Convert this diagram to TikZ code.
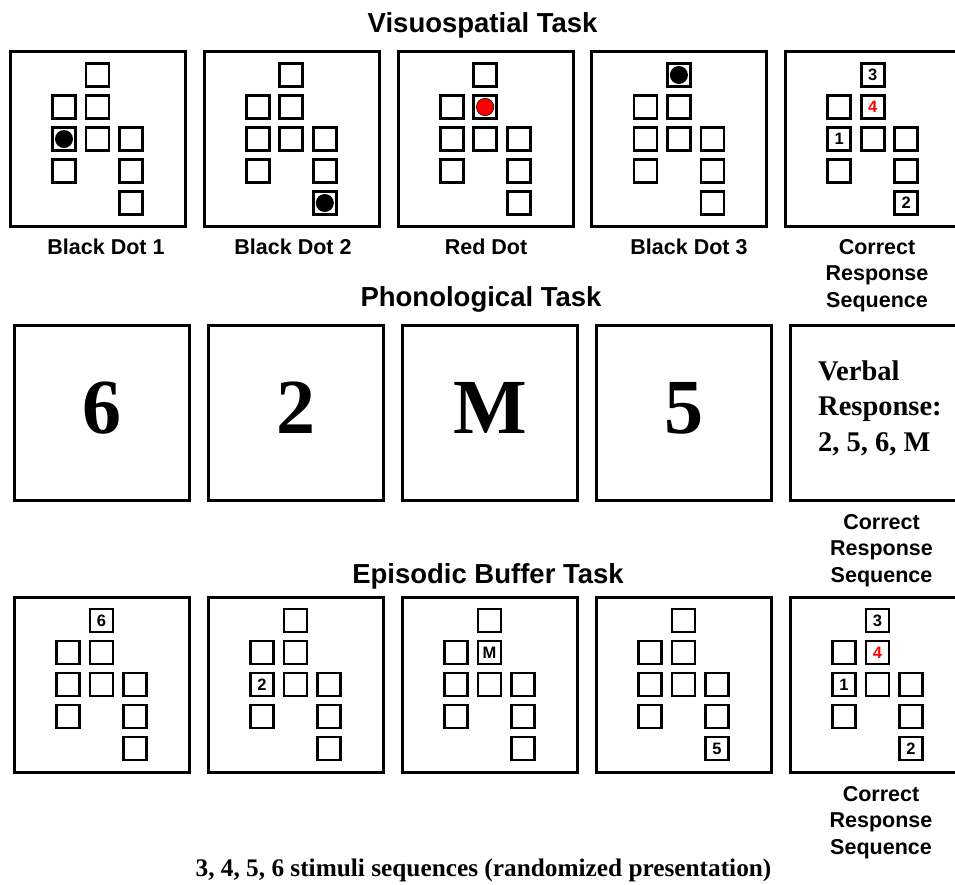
\documentclass[tikz,border=0pt]{standalone}
\usepackage{fontspec}
\setmainfont{Liberation Sans}
\newfontfamily\timesrm{Liberation Serif}

\begin{document}
\begin{tikzpicture}[x=1pt,y=-1pt,
  panel/.style={draw,line width=3pt,minimum size=175pt,inner sep=0pt},
  cell/.style={draw,line width=2.8pt,minimum size=23pt,inner sep=0pt},
  cellnum/.style={font=\fontsize{16.5}{16.5}\selectfont\bfseries,inner sep=0pt},
  tasktitle/.style={font=\fontsize{27.5}{30}\selectfont\bfseries,anchor=base},
  caption/.style={font=\fontsize{21.5}{26.7}\selectfont\bfseries,align=center,anchor=base,inner sep=0pt},
  bigchar/.style={font=\timesrm\fontsize{78}{78}\selectfont\bfseries,anchor=base,inner sep=0pt},
]

% page area, the last panels run off the right edge
\useasboundingbox (0,0) rectangle (955,884);
\clip (0,0) rectangle (955,884);
\fill[white] (0,0) rectangle (955,884);

%Row heights of the three tasks
\def\vsy{139}      %Visuospatial row.
\def\phy{412.5}    %Phonological row.
\def\eby{684.5}    %Episodic buffer row.

% Panels and the grids of cells
\foreach \i in {1,...,5} {
  \node[panel] (vs\i) at ({98+(\i-1)*193.8},\vsy) {};
  \node[panel] (ph\i) at ({102+(\i-1)*194},\phy) {};
  \node[panel] (eb\i) at ({102+(\i-1)*194},\eby) {};
  \foreach \c/\r in {2/1,1/2,2/2,1/3,2/3,3/3,1/4,3/4,3/5} {
    \node[cell] (vs\i-\c\r) at ([shift={({(\c-2)*33.5-0.5},{(\r-3)*32})}]vs\i) {};
    \node[cell] (eb\i-\c\r) at ([shift={({(\c-2)*33.5-0.5},{(\r-3)*32})}]eb\i) {};
  }
}

% Titles
\node[tasktitle] (vstitle) at (482.6,32.5) {Visuospatial Task};
\node[tasktitle] (phtitle) at (481,306) {Phonological Task};
\node[tasktitle] (ebtitle) at (488,583) {Episodic Buffer Task};

% VISUOSPATIAL: dots
\fill (vs1-13) circle (9pt);
\fill (vs2-35) circle (9pt);
\filldraw[fill=red,draw=black,line width=0.6pt] (vs3-22) circle (8.7pt);
\fill (vs4-21) circle (9pt);

\node[cellnum] (vs5-n1) at (vs5-13) {1};
\node[cellnum] (vs5-n2) at (vs5-35) {2};
\node[cellnum] (vs5-n3) at (vs5-21) {3};
\node[cellnum,text=red] (vs5-n4) at (vs5-22) {4};

% (base of a three line caption sits on its last line)
\node[caption] (vslab1) at (106,254) {Black Dot 1};
\node[caption] (vslab2) at (293,254) {Black Dot 2};
\node[caption] (vslab3) at (486,254) {Red Dot};
\node[caption] (vslab4) at (689,254) {Black Dot 3};
\node[caption] (vslab5) at (877,307.4) {Correct\\Response\\Sequence};

% PHONOLOGICAL: letters and digits
\node[bigchar] (ph1-x) at ([shift={(0,20.5)}]ph1) {6};
\node[bigchar] (ph2-x) at ([shift={(0,20.5)}]ph2) {2};
\node[bigchar] (ph3-x) at ([shift={(0,20.5)}]ph3) {M};
\node[bigchar] (ph4-x) at ([shift={(0,20.5)}]ph4) {5};
\node[font=\timesrm\fontsize{28.5}{35.8}\selectfont\bfseries,align=left,anchor=base west,inner sep=0pt]
  (ph5-x) at (818,451.6) {Verbal\\Response:\\2, 5, 6, M};

\node[caption] (phlab5) at (881.5,582.4) {Correct\\Response\\Sequence};

% EPISODIC BUFFER: items in cells
\node[cellnum] (eb1-n) at (eb1-21) {6};
\node[cellnum] (eb2-n) at (eb2-13) {2};
\node[cellnum] (eb3-n) at (eb3-22) {M};
\node[cellnum] (eb4-n) at (eb4-35) {5};

\node[cellnum] (eb5-n1) at (eb5-13) {1};
\node[cellnum] (eb5-n2) at (eb5-35) {2};
\node[cellnum] (eb5-n3) at (eb5-21) {3};
\node[cellnum,text=red] (eb5-n4) at (eb5-22) {4};

\node[caption] (eblab5) at (881,854.4) {Correct\\Response\\Sequence};

\node[font=\timesrm\fontsize{25.3}{30}\selectfont\bfseries,anchor=base,inner sep=0pt]
  (note) at (483.5,876) {3, 4, 5, 6 stimuli sequences (randomized presentation)};

\end{tikzpicture}
\end{document}
